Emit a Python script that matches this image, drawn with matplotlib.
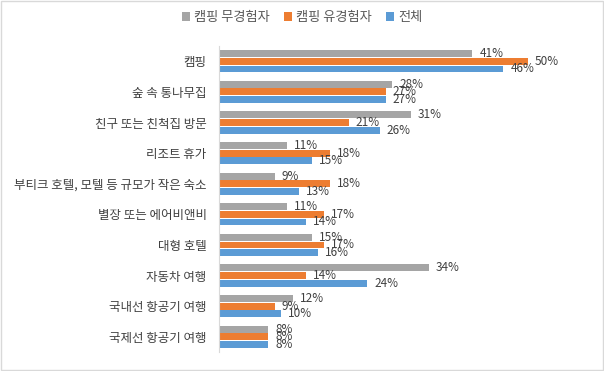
import numpy as np
import matplotlib
matplotlib.use("Agg")
import matplotlib.pyplot as plt

plt.rcParams['font.family'] = ['Noto Sans CJK KR', 'DejaVu Sans']

categories = ['캠핑', '숲 속 통나무집', '친구 또는 친척집 방문', '리조트 휴가',
              '부티크 호텔, 모텔 등 규모가 작은 숙소', '별장 또는 에어비앤비',
              '대형 호텔', '자동차 여행', '국내선 항공기 여행', '국제선 항공기 여행']
no_exp = [41, 28, 31, 11, 9, 11, 15, 34, 12, 8]
exp = [50, 27, 21, 18, 18, 17, 17, 14, 9, 8]
total = [46, 27, 26, 15, 13, 14, 16, 24, 10, 8]
series_names = ['캠핑 무경험자', '캠핑 유경험자', '전체']
colors = ['#A5A5A5', '#ED7D31', '#5B9BD5']

fig = plt.figure(figsize=(6.04, 3.71), dpi=100)
ax = fig.add_axes([0.3626, 0.051, 0.614, 0.825])

y = np.arange(len(categories))
h = 0.25
for i, (vals, name, c) in enumerate(zip([no_exp, exp, total], series_names, colors)):
    pos = y + (i - 1) * h
    ax.barh(pos, vals, height=h * 0.9, color=c, label=name)
    for p, v in zip(pos, vals):
        ax.annotate(f'{v}%', (v, p), xytext=(5, 0), textcoords='offset points',
                    va='center', ha='left', fontsize=8.5, color='#404040')

ax.set_xlim(0, 60)
ax.set_ylim(len(categories) - 0.5, -0.5)
ax.set_yticks(y)
ax.set_yticklabels(categories, fontsize=9, color='#404040')
ax.tick_params(axis='y', length=0, pad=9)
ax.set_xticks([])
for s in ['top', 'right', 'bottom']:
    ax.spines[s].set_visible(False)
ax.spines['left'].set_color('#D9D9D9')

fig.legend(loc='center', bbox_to_anchor=(0.5, 0.952), ncol=3, frameon=False,
           fontsize=9.5, handlelength=0.6, handleheight=0.6, handletextpad=0.3,
           columnspacing=1.1, labelcolor='#595959')

fig.patches.append(plt.Rectangle((0.002, 0.002), 0.996, 0.996, transform=fig.transFigure,
                                 fill=False, edgecolor='#D9D9D9', linewidth=1))

fig.savefig('out.png', dpi=100)
